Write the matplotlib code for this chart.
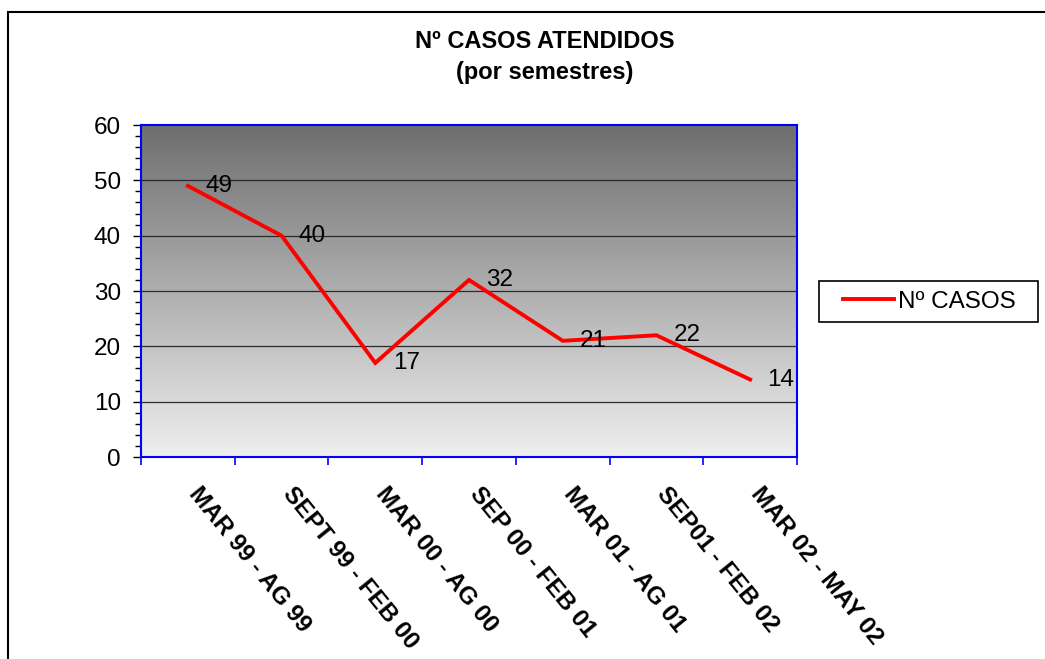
import numpy as np
import matplotlib
matplotlib.use("Agg")
import matplotlib.pyplot as plt
import matplotlib.transforms as mtransforms
from matplotlib.patches import Rectangle
from matplotlib.colors import LinearSegmentedColormap

categories = ["MAR 99 - AG 99", "SEPT 99 - FEB 00", "MAR 00 - AG 00", "SEP 00 - FEB 01",
              "MAR 01 - AG 01", "SEP01 - FEB 02", "MAR 02 - MAY 02"]
casos = [49, 40, 17, 32, 21, 22, 14]
yticks = [0, 10, 20, 30, 40, 50, 60]
series_name = "Nº CASOS"
title1 = "Nº CASOS ATENDIDOS"
title2 = "(por semestres)"

plt.rcParams['font.family'] = ['Liberation Sans', 'DejaVu Sans']
W, H = 1045, 659
fig = plt.figure(figsize=(W / 100, H / 100), dpi=100)
fig.patch.set_facecolor("white")

# figure border
fig.patches.append(Rectangle((8 / W, -0.1), 1.2, 1 - 12 / H + 0.1, transform=fig.transFigure,
                             fill=False, edgecolor="black", linewidth=1.5))

ax = fig.add_axes([141 / W, 1 - 457 / H, (797 - 141) / W, (457 - 125) / H])
n = len(categories)

# gradient background (dark top -> light bottom)
grad = np.linspace(0, 1, 256).reshape(-1, 1)
cmap = LinearSegmentedColormap.from_list("g", ["#6e6e6e", "#efefef"])
ax.imshow(grad, cmap=cmap, aspect="auto", extent=[-0.5, n - 0.5, 0, 60], origin="upper",
          zorder=0, interpolation="bilinear")
ax.set_xlim(-0.5, n - 0.5)
ax.set_ylim(0, 60)

for y in yticks[1:-1]:
    ax.axhline(y, color="#2a2a2a", linewidth=0.9, zorder=1)

x = np.arange(n)
line, = ax.plot(x, casos, color="#ff0000", linewidth=2.8, zorder=3, label=series_name,
                solid_joinstyle="miter")
for xi, v in zip(x, casos):
    ax.annotate(str(v), (xi, v), xytext=(12.5, 0), textcoords="offset points",
                ha="left", va="center", fontsize=17.5, color="black", zorder=4)

for s in ax.spines.values():
    s.set_color("#0000ff")
    s.set_linewidth(1.5)

ax.set_yticks(yticks)
ax.set_yticklabels([str(t) for t in yticks], fontsize=17.5)
ax.set_yticks(np.arange(0, 61, 2), minor=True)
ax.tick_params(axis="y", which="major", length=5.5, width=1, color="black", pad=9)
ax.tick_params(axis="y", which="minor", length=4, width=1, color="black")

ax.set_xticks(np.arange(-0.5, n, 1))
ax.set_xticklabels([])
ax.tick_params(axis="x", which="major", length=5.5, width=1.2, color="#0000ff")

# category labels
trans = mtransforms.blended_transform_factory(ax.transData, ax.transAxes)
for xi, lab in zip(x, categories):
    t = trans + mtransforms.ScaledTranslation(14 / 100, -26 / 100, fig.dpi_scale_trans)
    ax.text(xi, 0, lab, transform=t, rotation=-51, rotation_mode="anchor",
            ha="left", va="top", fontsize=17.5, fontweight="bold", clip_on=False)

fig.text(545 / W, 1 - 42 / H, title1, ha="center", va="center", fontsize=17, fontweight="bold")
fig.text(545 / W, 1 - 73 / H, title2, ha="center", va="center", fontsize=17, fontweight="bold")

# legend
fig.patches.append(Rectangle((819 / W, 1 - 322 / H), (1038 - 819) / W, (322 - 281) / H,
                             transform=fig.transFigure, facecolor="white", edgecolor="black",
                             linewidth=1.2, zorder=5))
leg = fig.legend(handles=[line], loc="center left",
                 bbox_to_anchor=(843 / W, 1 - 301.5 / H),
                 fontsize=17.5, frameon=False, handlelength=2.1, handletextpad=0.17,
                 borderpad=0, borderaxespad=0)
leg.set_zorder(6)

fig.savefig("out.png", dpi=100)
